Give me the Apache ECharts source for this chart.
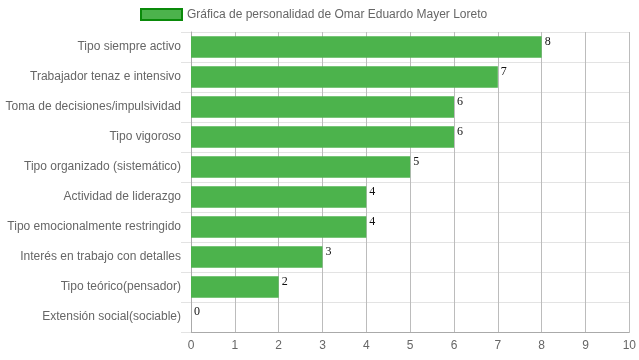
<!DOCTYPE html>
<html>
<head>
<meta charset="utf-8">
<script src="https://cdn.jsdelivr.net/npm/echarts@6/dist/echarts.min.js"></script>
<style>html,body{margin:0;padding:0;background:#fff}#c{width:639px;height:360px}</style>
</head>
<body>
<div id="c"></div>
<script>
const seriesName = 'Gráfica de personalidad de Omar Eduardo Mayer Loreto';
const categories = [
  'Tipo siempre activo',
  'Trabajador tenaz e intensivo',
  'Toma de decisiones/impulsividad',
  'Tipo vigoroso',
  'Tipo organizado (sistemático)',
  'Actividad de liderazgo',
  'Tipo emocionalmente restringido',
  'Interés en trabajo con detalles',
  'Tipo teórico(pensador)',
  'Extensión social(sociable)'
];
const values = [8, 7, 6, 6, 5, 4, 4, 3, 2, 0];
const xTicks = [0, 1, 2, 3, 4, 5, 6, 7, 8, 9, 10];

const chart = echarts.init(document.getElementById('c'), null, {renderer: 'canvas'});
chart.setOption({
  animation: false,
  textStyle: {fontFamily: 'Liberation Sans, Arial, sans-serif'},
  legend: {
    data: [seriesName],
    top: 3,
    left: 135,
    icon: 'rect',
    itemWidth: 41,
    itemHeight: 11,
    itemGap: 6,
    itemStyle: {color: '#4CB34C', borderColor: '#0A8A0A', borderWidth: 2},
    textStyle: {color: '#666', fontSize: 12, fontFamily: 'Liberation Sans, Arial, sans-serif'}
  },
  grid: {left: 191, right: 9, top: 32, bottom: 28, containLabel: false},
  xAxis: {
    type: 'value',
    min: xTicks[0],
    max: xTicks[xTicks.length - 1],
    interval: 1,
    axisLine: {show: true, lineStyle: {color: '#aaa'}},
    axisTick: {show: false},
    axisLabel: {color: '#666', fontSize: 12, margin: 8},
    splitLine: {show: true, lineStyle: {color: '#bcbcbc'}}
  },
  yAxis: {
    type: 'category',
    data: categories,
    inverse: true,
    axisLine: {show: true, lineStyle: {color: '#aaa'}},
    axisTick: {show: true, length: 10, lineStyle: {color: '#e3e3e3'}},
    axisLabel: {color: '#666', fontSize: 12, margin: 10},
    splitLine: {show: true, lineStyle: {color: '#e3e3e3'}}
  },
  series: [{
    name: seriesName,
    type: 'bar',
    data: values,
    barCategoryGap: '28%',
    itemStyle: {color: '#4CB34C', borderWidth: 0},
    label: {
      show: true,
      position: 'right',
      distance: 3,
      offset: [0, -5],
      color: '#111',
      fontSize: 12,
      fontFamily: 'Liberation Serif, serif'
    }
  }]
});
</script>
</body>
</html>
